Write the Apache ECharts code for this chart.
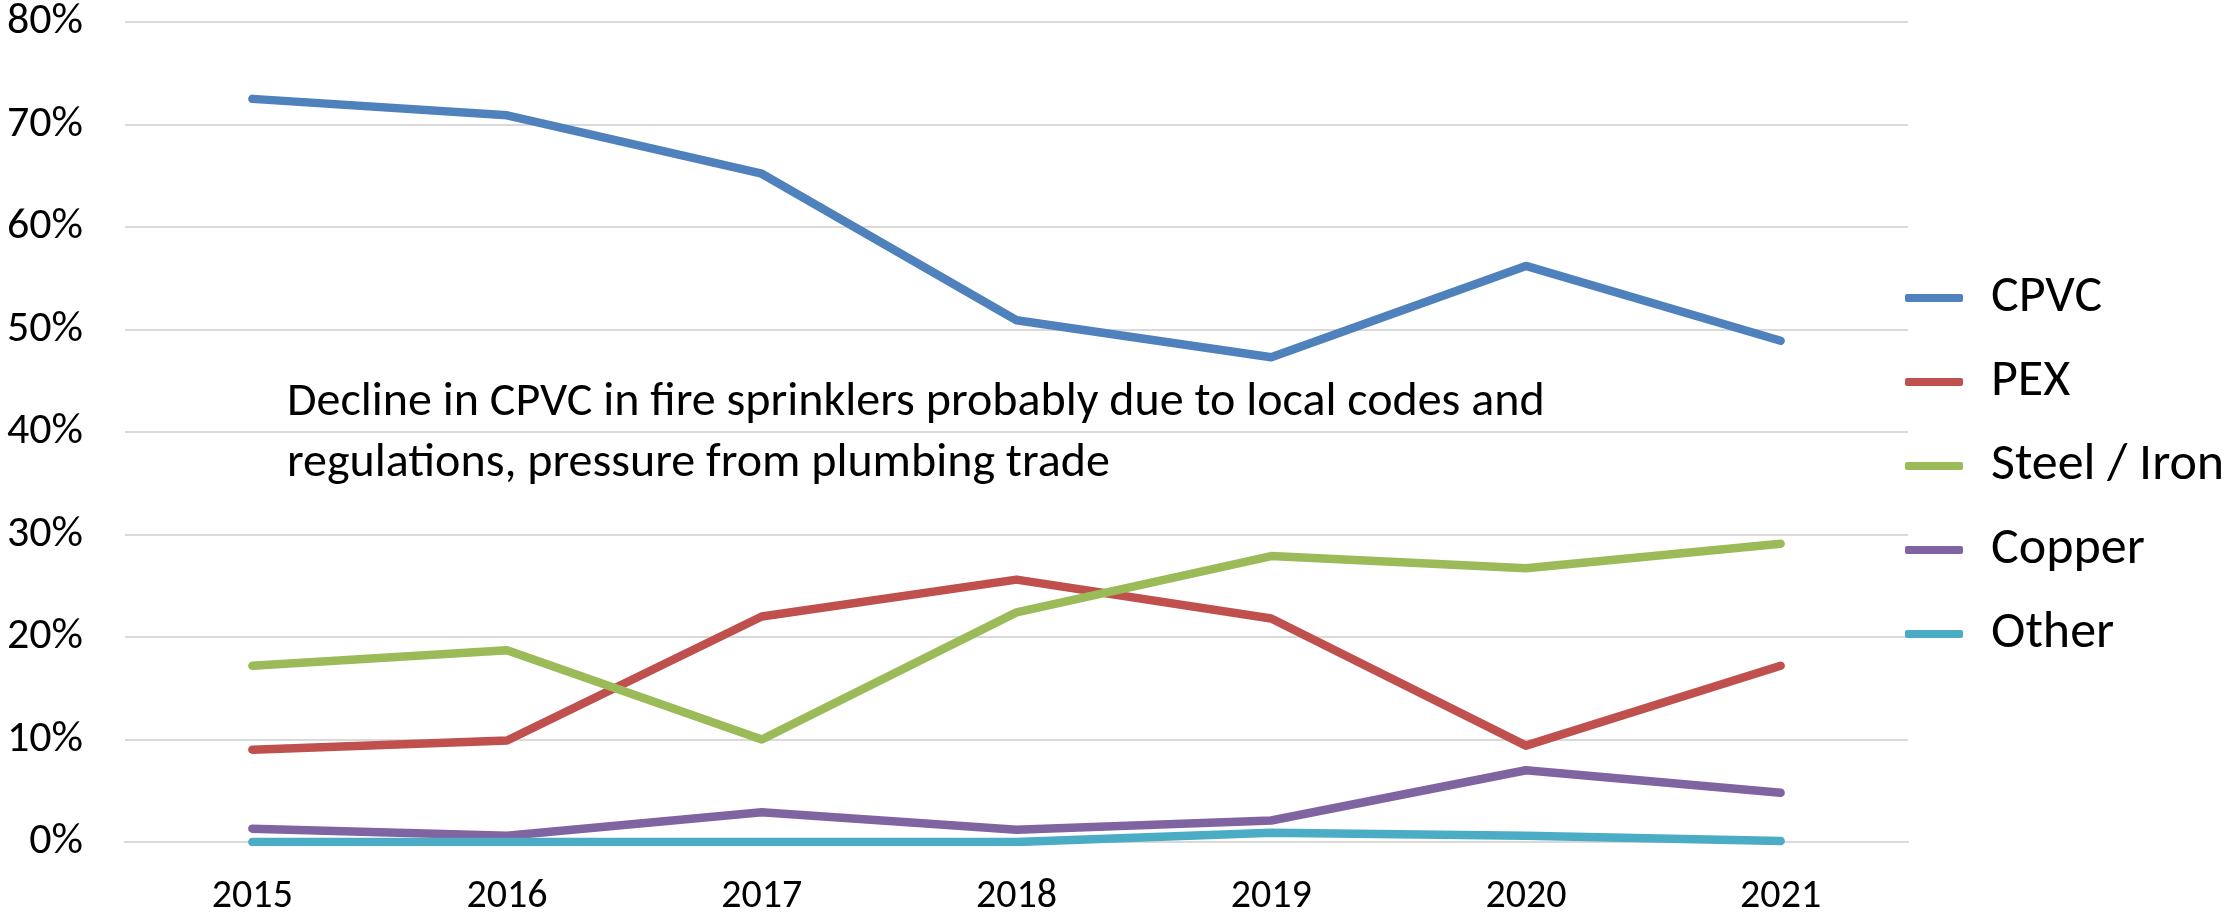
<!DOCTYPE html>
<html>
<head>
<meta charset="utf-8">
<script src="https://cdn.jsdelivr.net/npm/echarts@6/dist/echarts.min.js"></script>
<style>
  html, body { margin: 0; padding: 0; background: #fff; }
  #chart { width: 2229px; height: 919px; }
</style>
</head>
<body>
<div id="chart"></div>
<script>
// data (shares in %)
const years = ["2015", "2016", "2017", "2018", "2019", "2020", "2021"]
const cpvc = [72.5, 70.9, 65.2, 50.9, 47.3, 56.2, 48.9]
const pex = [9.0, 9.9, 22.0, 25.6, 21.8, 9.4, 17.2]
const steelIron = [17.2, 18.7, 10.0, 22.4, 27.9, 26.7, 29.1]
const copper = [1.3, 0.6, 2.9, 1.2, 2.1, 7.0, 4.8]
const other = [0.0, 0.0, 0.0, 0.0, 0.9, 0.6, 0.1]
const yTicks = [0, 10, 20, 30, 40, 50, 60, 70, 80]

const font = "Carlito, Calibri, Lato, sans-serif"
const colors = ["#4F81BD", "#C0504D", "#9BBB59", "#8064A2", "#4BACC6"]

const mkLine = (name, data, color) => ({
  name: name,
  type: "line",
  data: data,
  symbol: "none",
  color: color,
  lineStyle: { width: 8.5, color: color, cap: "round", join: "round" },
})

const chart = echarts.init(document.getElementById("chart"))
chart.setOption({
  animation: false,
  grid: { left: 125, right: 321, top: 19, bottom: 77 },
  xAxis: {
    type: "category",
    data: years,
    boundaryGap: true,
    axisLine: { show: true, lineStyle: { color: "#D9D9D9", width: 2 } },
    axisTick: { show: false },
    axisLabel: { color: "#000", fontSize: 40, fontFamily: font, margin: 35 },
  },
  yAxis: {
    type: "value",
    min: yTicks[0],
    max: yTicks[yTicks.length - 1],
    interval: 10,
    axisLine: { show: false },
    axisTick: { show: false },
    axisLabel: {
      color: "#000",
      fontSize: 44,
      fontFamily: font,
      margin: 42,
      formatter: (v) => v + "%",
    },
    splitLine: { lineStyle: { color: "#D9D9D9", width: 2 } },
  },
  legend: {
    orient: "vertical",
    left: 1900,
    top: 267,
    icon: "roundRect",
    itemWidth: 58,
    itemHeight: 8,
    itemGap: 32,
    textStyle: { color: "#000", fontSize: 52, fontFamily: font, lineHeight: 50, padding: [0, 0, 0, 23] },
    data: ["CPVC", "PEX", "Steel / Iron", "Copper", "Other"],
  },
  graphic: [
    {
      type: "text",
      left: 287,
      top: 372,
      style: {
        text: "Decline in CPVC in fire sprinklers probably due to local codes and\nregulations, pressure from plumbing trade",
        font: "48px " + font,
        fill: "#000",
        lineHeight: 61,
      },
    },
  ],
  series: [
    mkLine("CPVC", cpvc, colors[0]),
    mkLine("PEX", pex, colors[1]),
    mkLine("Steel / Iron", steelIron, colors[2]),
    mkLine("Copper", copper, colors[3]),
    mkLine("Other", other, colors[4]),
  ],
})
</script>
</body>
</html>
